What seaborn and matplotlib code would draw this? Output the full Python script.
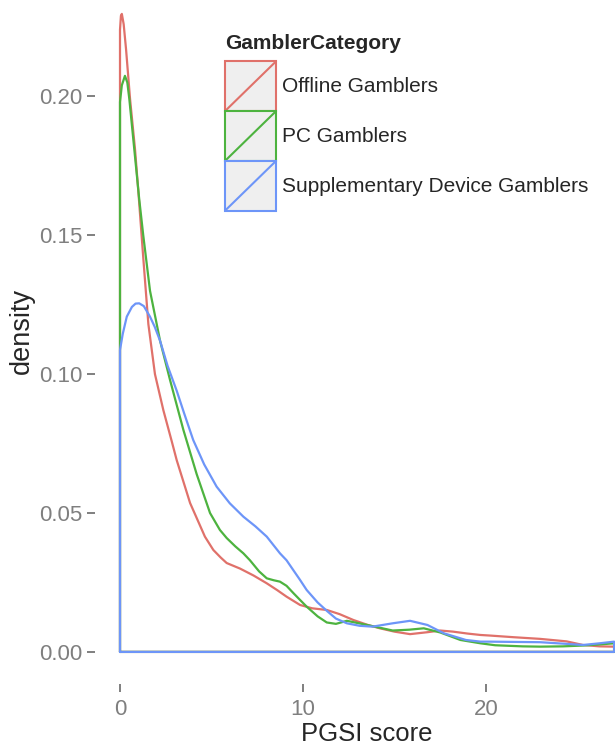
import matplotlib
matplotlib.use("Agg")
import matplotlib.pyplot as plt
import seaborn as sns
import pandas as pd
from matplotlib.legend_handler import HandlerBase
from matplotlib.patches import Rectangle
from matplotlib.lines import Line2D

# ---- data ----
categories = ["Offline Gamblers", "PC Gamblers", "Supplementary Device Gamblers"]
colors = ["#E0716A", "#4DB33F", "#6D95F8"]

offline_x = [0, 0.05, 0.1, 0.2, 0.33, 0.55, 0.82, 1.0, 1.27, 1.55, 1.91, 2.37, 2.82, 3.1,
             3.83, 4.64, 5.1, 5.5, 5.83, 6.56, 7.3, 8.02, 8.6, 9.1, 9.84, 10.5, 11.3, 12.0,
             12.75, 13.5, 14.2, 15.0, 15.85, 16.8, 17.5, 18.2, 19.0, 19.7, 20.2, 21.5,
             22.95, 24.4, 25.3, 26.2, 27.0]
offline_y = [0.224, 0.229, 0.2297, 0.226, 0.217, 0.199, 0.181, 0.166, 0.142, 0.118, 0.100,
             0.087, 0.076, 0.069, 0.0536, 0.0415, 0.0367, 0.034, 0.032, 0.0300, 0.0275,
             0.0247, 0.0222, 0.0199, 0.0169, 0.0157, 0.0151, 0.0136, 0.0115, 0.0098, 0.0085,
             0.0073, 0.0064, 0.0071, 0.0077, 0.0073, 0.0066, 0.0061, 0.0059, 0.0053, 0.0047,
             0.0038, 0.0025, 0.0020, 0.0019]

pc_x = [0, 0.1, 0.27, 0.4, 0.51, 0.78, 1.05, 1.27, 1.64, 2.19, 2.73, 3.46, 4.19, 4.92, 5.46,
        5.83, 6.3, 6.74, 7.1, 7.6, 8.02, 8.4, 8.74, 9.1, 9.5, 9.84, 10.2, 10.8, 11.3, 11.8,
        12.4, 13.5, 14.2, 14.9, 15.8, 16.6, 17.5, 18.6, 19.7, 20.5, 22.0, 22.95, 24.2, 25.3,
        26.2, 27.0]
pc_y = [0.198, 0.204, 0.2074, 0.205, 0.199, 0.181, 0.163, 0.150, 0.130, 0.112, 0.098, 0.080,
        0.064, 0.050, 0.0439, 0.041, 0.038, 0.0355, 0.033, 0.029, 0.0265, 0.0258, 0.0253,
        0.0238, 0.021, 0.0187, 0.0163, 0.0128, 0.0106, 0.0101, 0.0112, 0.0097, 0.0087,
        0.0077, 0.0080, 0.0085, 0.0070, 0.0043, 0.0031, 0.0024, 0.0020, 0.0019, 0.0020,
        0.0023, 0.0027, 0.0031]

sup_x = [0, 0.15, 0.37, 0.65, 0.85, 1.05, 1.3, 1.64, 1.9, 2.19, 2.6, 3.1, 3.5, 4.0, 4.6,
         5.28, 6.0, 6.74, 7.4, 8.02, 8.74, 9.1, 9.84, 10.2, 10.8, 11.3, 11.8, 12.4, 13.1,
         13.8, 14.9, 15.85, 16.8, 17.7, 18.9, 19.7, 20.2, 21.5, 22.95, 24.4, 25.3, 26.2, 27.0]
sup_y = [0.1087, 0.1145, 0.1207, 0.1242, 0.1254, 0.1255, 0.1245, 0.1207, 0.117, 0.112,
         0.103, 0.094, 0.086, 0.0763, 0.0675, 0.0595, 0.0535, 0.0487, 0.0452, 0.0415,
         0.0355, 0.033, 0.0259, 0.0223, 0.0178, 0.0148, 0.0120, 0.0103, 0.0094, 0.0091,
         0.0103, 0.0112, 0.0097, 0.0067, 0.0043, 0.0037, 0.0037, 0.0036, 0.0035, 0.0029,
         0.0025, 0.0031, 0.0037]

x_ticks = [0, 10, 20]
y_ticks = [0.00, 0.05, 0.10, 0.15, 0.20]

KEY_FILL = "#EFEFEF"
TICK_GREY = "#7F7F7F"

# ggplot draws the density as a closed polygon: drop to the baseline at both ends
frames = []
for name, xs, ys in zip(categories, [offline_x, pc_x, sup_x], [offline_y, pc_y, sup_y]):
    px = [xs[0]] + xs + [xs[-1], xs[0]]
    py = [0.0] + ys + [0.0, 0.0]
    frames.append(pd.DataFrame({"PGSI": px, "density": py, "GamblerCategory": name}))
df = pd.concat(frames, ignore_index=True)


class KeyHandler(HandlerBase):
    """grey key box with coloured outline and a diagonal, like the old ggplot density key"""
    def create_artists(self, legend, orig_handle, xdescent, ydescent, width, height,
                       fontsize, trans):
        c = orig_handle.get_color()
        box = Rectangle((-xdescent, -ydescent), width, height, facecolor=KEY_FILL,
                        edgecolor=c, lw=1.5, transform=trans)
        diag = Line2D([-xdescent, -xdescent + width], [-ydescent, -ydescent + height],
                      color=c, lw=1.5, transform=trans)
        return [box, diag]


sns.set_style("white")
plt.rcParams["font.family"] = ["Liberation Sans", "DejaVu Sans"]

fig = plt.figure(figsize=(6.15, 7.45), dpi=100)
# panel runs past the top and right edges of the picture (the reference is cropped)
ax = fig.add_axes([95.3 / 615, 61 / 745, 543.5 / 615, 705.8 / 745])

sns.lineplot(data=df, x="PGSI", y="density", hue="GamblerCategory", hue_order=categories,
             palette=colors, sort=False, estimator=None, legend=False, lw=1.6, ax=ax)

ax.set_xlim(-1.35, 28.35)
ax.set_ylim(-0.01155, 0.24255)
ax.set_xticks(x_ticks)
ax.set_xticklabels([str(t) for t in x_ticks])
ax.set_yticks(y_ticks)
ax.set_yticklabels([f"{t:.2f}" for t in y_ticks])
ax.tick_params(axis="both", direction="out", length=6, width=1.4, color=TICK_GREY,
               labelcolor=TICK_GREY, labelsize=16, pad=3, bottom=True, left=True)
ax.tick_params(axis="x", pad=5)
ax.set_xlabel("PGSI score", fontsize=18.5, labelpad=1.5)
ax.set_ylabel("density", fontsize=19.5, labelpad=3)
sns.despine(ax=ax, left=True, bottom=True)

handles = [Line2D([], [], color=c) for c in colors]
leg = ax.legend(handles, categories, title="GamblerCategory", loc="upper left",
                bbox_to_anchor=(225 / 615, 1 - 34 / 745), bbox_transform=fig.transFigure,
                frameon=False, fontsize=15, borderpad=0, borderaxespad=0,
                handlelength=2.45, handleheight=3.3, labelspacing=0, handletextpad=0.3,
                alignment="left", title_fontproperties={"weight": "bold", "size": 15},
                handler_map={Line2D: KeyHandler()})
leg._legend_box.sep = 6

fig.savefig("out.png", dpi=100)
plt.close(fig)
